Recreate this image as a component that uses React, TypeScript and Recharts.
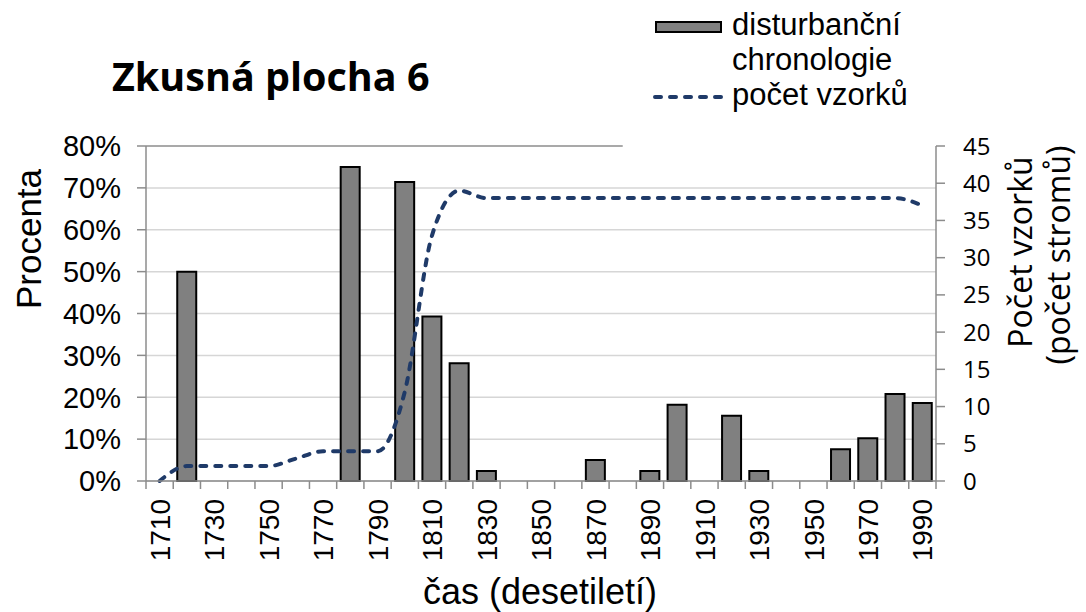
import React from 'react'
import { ComposedChart, Bar, Line, XAxis, YAxis, CartesianGrid, Label } from 'recharts'

document.body.style.margin = '0'

// decades on the x axis
const years = [
  '1710', '1720', '1730', '1740', '1750', '1760', '1770', '1780', '1790', '1800',
  '1810', '1820', '1830', '1840', '1850', '1860', '1870', '1880', '1890', '1900',
  '1910', '1920', '1930', '1940', '1950', '1960', '1970', '1980', '1990',
]
// disturbanční chronologie (%)
const disturbance = [
  0, 50, 0, 0, 0, 0, 0, 75, 0, 71.4,
  39.3, 28.1, 2.4, 0, 0, 0, 5.0, 0, 2.4, 18.2,
  0, 15.6, 2.4, 0, 0, 7.6, 10.2, 20.8, 18.6,
]
// počet vzorků (počet stromů)
const samples = [
  0, 2, 2, 2, 2, 3, 4, 4, 4, 12,
  33, 39, 38, 38, 38, 38, 38, 38, 38, 38,
  38, 38, 38, 38, 38, 38, 38, 38, 37,
]
const percentTicks = [0, 10, 20, 30, 40, 50, 60, 70, 80]
const sampleTicks = [0, 5, 10, 15, 20, 25, 30, 35, 40, 45]

const data = years.map((year, i) => ({ year, disturbance: disturbance[i], samples: samples[i] }))

const AXIS_GREY = '#8c8c8c'
const GRID_GREY = '#d6d6d6'
const NAVY = '#1f3a68'
const ARIAL = '"Liberation Sans", Arial, sans-serif'
const CALIBRI = '"Open Sans", sans-serif'
// the top gridline stops under the legend, roughly at the 1880 column
const TOP_LINE_SHARE = 17.5 / 29

const YearTick = (props: any) => {
  const { x, y, index, width, visibleTicksCount, payload } = props
  const half = typeof width === 'number' && visibleTicksCount ? width / visibleTicksCount / 2 : payload.offset
  return (
    <g>
      <line x1={x - half} x2={x - half} y1={y} y2={y + 8} stroke={AXIS_GREY} strokeWidth={1.5} />
      {index === visibleTicksCount - 1 && (
        <line x1={x + half} x2={x + half} y1={y} y2={y + 8} stroke={AXIS_GREY} strokeWidth={1.5} />
      )}
      {index % 2 === 0 && (
        <text
          transform={`translate(${x},${y + 18}) rotate(-90)`}
          textAnchor="end"
          dy="0.36em"
          fontSize={28}
          fontFamily={ARIAL}
          fill="#000"
        >
          {payload.value}
        </text>
      )}
    </g>
  )
}

const gridLine = (p: any) => {
  const isTop = Math.abs(p.y1 - p.y) < 1
  const x2 = isTop ? p.x1 + (p.x2 - p.x1) * TOP_LINE_SHARE : p.x2
  return (
    <line
      key={p.key}
      x1={p.x1}
      x2={x2}
      y1={p.y1}
      y2={p.y2}
      stroke={isTop ? AXIS_GREY : GRID_GREY}
      strokeWidth={1.5}
    />
  )
}

const ChartLegend = () => (
  <div style={{ position: 'absolute', left: 640, top: 0, width: 320, height: 120, fontFamily: ARIAL, fontSize: 31, color: '#000' }}>
    <div style={{ position: 'absolute', left: 15, top: 21, width: 63, height: 8, background: '#808080', border: '2px solid #000' }} />
    <div style={{ position: 'absolute', left: 92, top: 7, lineHeight: '35px', whiteSpace: 'nowrap' }}>
      disturbanční<br />chronologie
    </div>
    <svg style={{ position: 'absolute', left: 13, top: 92 }} width={74} height={10}>
      <line x1={2} x2={70} y1={5} y2={5} stroke={NAVY} strokeWidth={4} strokeDasharray="6 9" strokeLinecap="round" />
    </svg>
    <div style={{ position: 'absolute', left: 92, top: 77, lineHeight: '35px', whiteSpace: 'nowrap' }}>počet vzorků</div>
  </div>
)

export default function App() {
  return (
    <div style={{ position: 'relative', width: 1086, height: 612, background: '#fff' }}>
      <ComposedChart width={1086} height={612} data={data} margin={{ top: 146, right: 0, bottom: 0, left: 0 }}>
        <CartesianGrid yAxisId="left" vertical={false} horizontal={gridLine} />
        <XAxis
          dataKey="year"
          interval={0}
          height={131}
          tickSize={0}
          tickMargin={0}
          tickLine={false}
          axisLine={{ stroke: AXIS_GREY, strokeWidth: 1.5 }}
          tick={<YearTick />}
        >
          <Label
            content={() => (
              <text x={540} y={604} textAnchor="middle" fontSize={36} fontFamily={ARIAL} fill="#000">
                čas (desetiletí)
              </text>
            )}
          />
        </XAxis>
        <YAxis
          yAxisId="left"
          width={146}
          domain={[0, 80]}
          ticks={percentTicks}
          interval={0}
          tickFormatter={v => `${v}%`}
          tickSize={9}
          tickMargin={16}
          tickLine={{ stroke: AXIS_GREY, strokeWidth: 1.5 }}
          axisLine={{ stroke: AXIS_GREY, strokeWidth: 1.5 }}
          tick={{ fill: '#000', fontSize: 29, fontFamily: ARIAL }}
        >
          <Label
            content={() => (
              <text transform="translate(41,239) rotate(-90)" textAnchor="middle" fontSize={35} fontFamily={ARIAL} fill="#000">
                Procenta
              </text>
            )}
          />
        </YAxis>
        <YAxis
          yAxisId="right"
          orientation="right"
          width={150}
          domain={[0, 45]}
          ticks={sampleTicks}
          interval={0}
          tickSize={9}
          tickMargin={18}
          tickLine={{ stroke: AXIS_GREY, strokeWidth: 1.5 }}
          axisLine={{ stroke: AXIS_GREY, strokeWidth: 1.5 }}
          tick={{ fill: '#000', fontSize: 24, fontFamily: CALIBRI }}
        >
          <Label
            content={() => (
              <g fontSize={32} fontFamily={CALIBRI} fill="#000">
                <text transform="translate(1032,252) rotate(-90)" textAnchor="middle">Počet vzorků</text>
                <text transform="translate(1070,255) rotate(-90)" textAnchor="middle">(počet stromů)</text>
              </g>
            )}
          />
        </YAxis>
        <Bar
          yAxisId="left"
          dataKey="disturbance"
          name="disturbanční chronologie"
          fill="#808080"
          stroke="#000"
          strokeWidth={2}
          barSize={19}
          isAnimationActive={false}
        />
        <Line
          yAxisId="right"
          dataKey="samples"
          name="počet vzorků"
          type="monotone"
          stroke={NAVY}
          strokeWidth={4}
          strokeDasharray="6 9"
          strokeLinecap="round"
          dot={false}
          activeDot={false}
          isAnimationActive={false}
        />
      </ComposedChart>
      <div
        style={{
          position: 'absolute', left: 112, top: 51, fontFamily: CALIBRI, fontWeight: 700,
          fontSize: 39.5, lineHeight: '50px', color: '#000', whiteSpace: 'nowrap',
        }}
      >
        Zkusná plocha 6
      </div>
      <ChartLegend />
    </div>
  )
}
